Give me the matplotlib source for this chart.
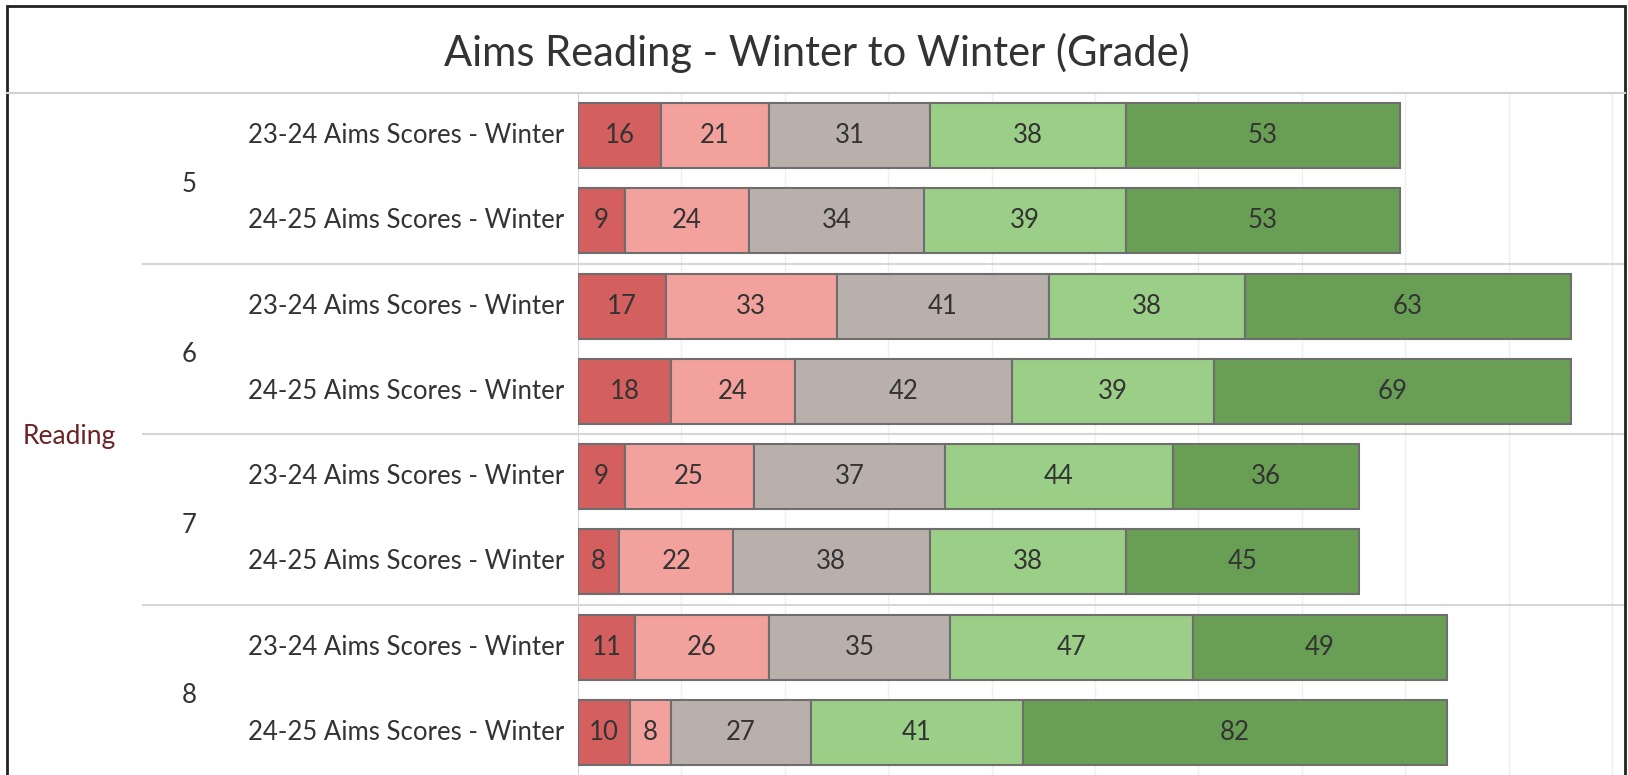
import numpy as np
import matplotlib.pyplot as plt
from matplotlib.patches import Rectangle
from matplotlib.lines import Line2D
from matplotlib.transforms import blended_transform_factory

plt.rcParams['font.family'] = ['Lato', 'DejaVu Sans']

# data
grades = ["5", "6", "7", "8"]
periods = ["23-24 Aims Scores - Winter", "24-25 Aims Scores - Winter"]
# one list per score band, rows in order grade 5 (23-24, 24-25), grade 6, ...
band1 = [16, 9, 17, 18, 9, 8, 11, 10]
band2 = [21, 24, 33, 24, 25, 22, 26, 8]
band3 = [31, 34, 41, 42, 37, 38, 35, 27]
band4 = [38, 39, 38, 39, 44, 38, 47, 41]
band5 = [53, 53, 63, 69, 36, 45, 49, 82]
bands = [band1, band2, band3, band4, band5]
colors = ["#d35f5f", "#f2a19d", "#b9b0ac", "#9bcf87", "#699f55"]

W, H = 1628, 775
fig = plt.figure(figsize=(W / 100, H / 100), dpi=100)

top = 93
left, right = 578, 1625
ax = fig.add_axes([left / W, 0, (right - left) / W, (H - top) / H])

n = len(band1)
y = np.arange(n)
start = np.zeros(n)
for vals, c in zip(bands, colors):
    vals = np.array(vals)
    ax.barh(y, vals, left=start, height=0.76, color=c, edgecolor="#6e6e6e", linewidth=1.5, zorder=3)
    for yi, s, v in zip(y, start, vals):
        ax.text(s + v / 2, yi, str(v), ha="center", va="center", fontsize=18.5, color="#333333", zorder=4)
    start = start + vals

ax.set_xlim(0, 202.5)
ax.set_ylim(n - 0.5, -0.5)
ax.set_xticks(np.arange(0, 201, 20))
ax.grid(axis="x", color="#efefef", linewidth=1, zorder=0)
ax.tick_params(left=False, bottom=False, labelleft=False, labelbottom=False)
for sp in ax.spines.values():
    sp.set_visible(False)
ax.axvline(0, color="#d0d0d0", linewidth=1.2, zorder=2)

# row headers
tr = blended_transform_factory(fig.transFigure, ax.transData)
for i in range(n):
    ax.text(564 / W, i, periods[i % 2], transform=tr, ha="right", va="center",
            fontsize=18.5, color="#333333")
for g, name in enumerate(grades):
    ax.text(189 / W, 2 * g + 0.57, name, transform=tr, ha="center", va="center",
            fontsize=18.5, color="#333333")
ax.text(23 / W, (n - 1) / 2 + 0.03, "Reading", transform=tr, ha="left", va="center",
        fontsize=19, color="#6b2222")

# separators between grades
for g in range(1, len(grades)):
    ax.add_line(Line2D([143 / W, right / W], [2 * g - 0.5] * 2, transform=tr,
                       color="#d6d6d6", linewidth=1.5, clip_on=False, zorder=5))

# title and frame
fig.text(817 / W, 1 - 53 / H, "Aims Reading - Winter to Winter (Grade)", ha="center", va="center",
         fontsize=30, color="#333333")
fig.add_artist(Line2D([7 / W, right / W], [1 - top / H] * 2, color="#d0d0d0", linewidth=1.5))
fig.add_artist(Rectangle((7 / W, -0.01), (right - 7) / W, 1 - 6 / H + 0.01, fill=False,
                         edgecolor="#222222", linewidth=2))

fig.savefig("out.png", dpi=100)
